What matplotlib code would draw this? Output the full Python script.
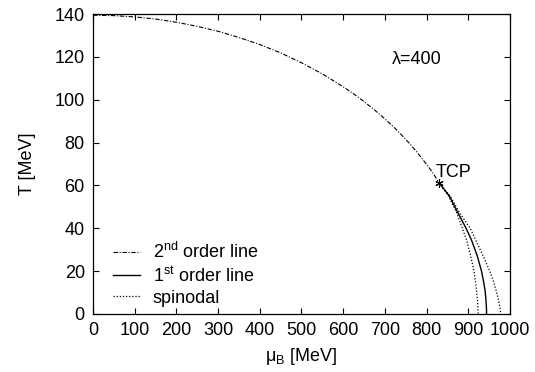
import matplotlib
matplotlib.use("Agg")
import matplotlib.pyplot as plt

plt.rcParams['font.family'] = ['Liberation Sans', 'DejaVu Sans']
plt.rcParams['mathtext.default'] = 'regular'

# 2nd order line (crossover), from mu=0 to the TCP
mu_2nd = [0, 50, 100, 150, 200, 250, 300, 350, 400, 450, 500, 550, 600,
          625, 650, 675, 700, 725, 750, 775, 800, 810, 820, 830]
T_2nd = [139.5, 139.3, 138.7, 137.7, 136.2, 134.3, 132.0, 129.1, 125.8,
         121.9, 117.3, 112.1, 106.1, 102.8, 99.2, 95.3, 91.1, 86.6, 81.6,
         76.1, 69.9, 67.3, 64.4, 61.3]

# 1st order line below the TCP
T_low = [61.3, 55, 47, 40, 34.5, 27, 20, 15, 11, 7, 4, 2, 0]
mu_1st = [830, 855, 876, 895, 908, 922, 932, 937, 940.5, 942.5, 943.5, 944, 944]

# spinodals
mu_spin_in = [830, 853, 873, 886, 896, 906, 914, 917.5, 920, 922, 923, 923.7, 924]
mu_spin_out = [830, 857, 880, 905, 918, 936, 952, 961, 967, 972, 975, 977, 978]

tcp_mu = 830
tcp_T = 61.3

fs = 13

fig = plt.figure(figsize=(5.35, 3.72), dpi=100)
ax = fig.add_axes([0.174, 0.156, 0.779, 0.806])

ax.plot(mu_2nd, T_2nd, color='black', lw=0.8, dashes=(4, 1.5, 1, 1.5),
        label='2$^{nd}$ order line')
ax.plot(mu_1st, T_low, color='black', lw=1.0, label='1$^{st}$ order line')
ax.plot(mu_spin_in, T_low, color='black', lw=0.9, dashes=(1, 1.5),
        label='spinodal')
ax.plot(mu_spin_out, T_low, color='black', lw=0.9, dashes=(1, 1.5))
ax.plot([tcp_mu], [tcp_T], marker=(6, 2, 0), color='black', ms=6, mew=0.8)

ax.text(tcp_mu - 8, tcp_T + 1, 'TCP', fontsize=fs, ha='left', va='bottom')
ax.text(718, 119, 'λ=400', fontsize=fs, ha='left', va='center')

ax.set_xlim(0, 1000)
ax.set_ylim(0, 140)
ax.set_xticks(range(0, 1001, 100))
ax.set_yticks(range(0, 141, 20))
ax.tick_params(direction='in', top=True, right=True, length=4, width=0.8,
               labelsize=fs, pad=6)
for s in ax.spines.values():
    s.set_linewidth(0.9)

ax.set_xlabel('μ$_B$ [MeV]', fontsize=fs, labelpad=5)
ax.set_ylabel('T [MeV]', fontsize=fs, labelpad=13)

ax.legend(loc='lower left', frameon=False, fontsize=fs, handlelength=1.5,
          handletextpad=0.7, labelspacing=0.22, borderaxespad=0.0,
          bbox_to_anchor=(0.03, 0.0))

fig.savefig('out.png', dpi=100)
